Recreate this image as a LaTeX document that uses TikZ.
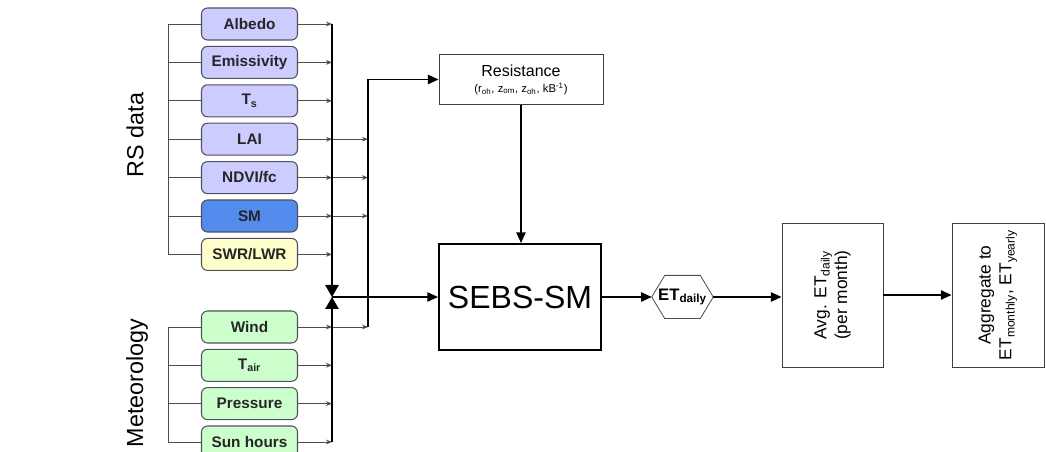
\documentclass[tikz,border=0pt]{standalone}
\usepackage{fontspec}
\setmainfont{Liberation Sans}
\usetikzlibrary{arrows.meta}
\definecolor{rsfill}{RGB}{204,204,255}
\definecolor{smfill}{RGB}{84,140,238}
\definecolor{swfill}{RGB}{255,255,204}
\definecolor{metfill}{RGB}{204,255,204}
\definecolor{bord}{RGB}{80,80,95}
\begin{document}
\begin{tikzpicture}[x=0.75pt,y=-0.75pt,
  inbox/.style={draw=bord, line width=0.8pt, rounded corners=4.5pt, minimum width=72pt, minimum height=24pt, inner sep=0pt, font=\fontsize{11.5}{13}\selectfont\bfseries, text=black!85},
  rs/.style={inbox, fill=rsfill},
  smb/.style={inbox, fill=smfill},
  swb/.style={inbox, fill=swfill},
  met/.style={inbox, fill=metfill},
  thin/.style={draw=black!70, line width=0.6pt},
  small/.style={thin, -{Stealth[length=4.5pt,width=3.5pt]}},
  bus/.style={draw=black, line width=1.4pt},
  big/.style={draw=black, line width=1.2pt, -{Triangle[length=8pt,width=7pt]}},
  plainbox/.style={draw=black!75, line width=0.7pt, inner sep=2pt},
  side/.style={font=\fontsize{17.5}{20}\selectfont, rotate=90}
]
\useasboundingbox (0,0) rectangle (1046,452);

% side labels
\node[side] (rslab) at (135,135) {RS data};
\node[side] (metlab) at (137,383) {Meteorology};

% input boxes
\node[rs]  (alb) at (249.5,24)    {Albedo};
\node[rs]  (emi) at (249.5,62.4)  {Emissivity};
\node[rs]  (ts)  at (249.5,100.8) {T\textsubscript{s}};
\node[rs]  (lai) at (249.5,139.2) {LAI};
\node[rs]  (ndv) at (249.5,177.6) {NDVI/fc};
\node[smb] (sm)  at (249.5,216)   {SM};
\node[swb] (swr) at (249.5,254.4) {SWR/LWR};
\node[met] (wnd) at (249.5,327)   {Wind};
\node[met] (tai) at (249.5,365.3) {T\textsubscript{air}};
\node[met] (prs) at (249.5,403.6) {Pressure};
\node[met] (sun) at (249.5,442)   {Sun hours};

% helper coordinates
\coordinate (lx) at (168,0);
\coordinate (bx) at (332,0);
\coordinate (rx) at (368,0);

% left brackets
\draw[thin] (alb.west) -- (alb.west -| lx) -- (swr.west -| lx) -- (swr.west);
\foreach \n in {emi,ts,lai,ndv,sm}{\draw[thin] (\n.west) -- (\n.west -| lx);}
\draw[thin] (wnd.west) -- (wnd.west -| lx) -- (sun.west -| lx) -- (sun.west);
\foreach \n in {tai,prs}{\draw[thin] (\n.west) -- (\n.west -| lx);}

% main boxes
\node[draw=black, line width=1.5pt, minimum width=121.5pt, minimum height=79.5pt, font=\fontsize{24}{28}\selectfont] (sebs) at (520,297) {SEBS-SM};
\node[plainbox, minimum width=123pt, minimum height=38pt, align=center, font=\fontsize{12}{13}\selectfont] (res) at (521,79.5)
  {Resistance\\[-1pt]{\fontsize{8.5}{10}\selectfont (r\textsubscript{oh}, z\textsubscript{om}, z\textsubscript{oh}, kB\textsuperscript{-1})}};
\node[minimum width=45.75pt, minimum height=32pt, inner sep=0pt, font=\fontsize{12.5}{14}\selectfont\bfseries] (et) at (682.5,297) {ET\textsubscript{daily}};
\draw[thin] (et.west) -- ([xshift=9.75pt]et.north west) -- ([xshift=-9.75pt]et.north east) -- (et.east) -- ([xshift=-9.75pt]et.south east) -- ([xshift=9.75pt]et.south west) -- cycle;
\node[plainbox, rotate=90, minimum width=108pt, minimum height=75.75pt, align=center, font=\fontsize{13}{15.5}\selectfont] (avg) at (832.5,295)
  {Avg. ET\textsubscript{daily}\\(per month)};
\node[plainbox, rotate=90, minimum width=108pt, minimum height=69pt, align=center, font=\fontsize{13}{15.5}\selectfont] (agg) at (998,295)
  {Aggregate to\\ET\textsubscript{monthly}, ET\textsubscript{yearly}};

% arrows from boxes to the bus
\foreach \n in {alb,emi,ts,lai,ndv,sm,swr,wnd,tai,prs,sun}{\draw[small] (\n.east) -- (\n.east -| bx);}
\foreach \n in {lai,ndv,sm,wnd}{\draw[small] (\n.east -| bx) -- (\n.east -| rx);}

% bus
\coordinate (join) at (332,297);
\draw[bus, -{Triangle[length=9pt,width=10pt]}] (alb.east -| bx) -- (join);
\draw[bus, -{Triangle[length=9pt,width=10pt]}] (sun.east -| bx) -- (join);
\draw[big] (join) -- (join -| sebs.west);

% branch to resistance
\draw[big] (wnd.east -| rx) -- (rx |- res.west) -- (res.west);
\draw[big] (res.south) -- (res.south |- sebs.north);

% outputs
\draw[big] (sebs.east) -- (et.west);
\draw[big] (et.east) -- (et.east -| avg.north);
\draw[big] (avg.south) -- (avg.south -| agg.north);
\end{tikzpicture}
\end{document}
